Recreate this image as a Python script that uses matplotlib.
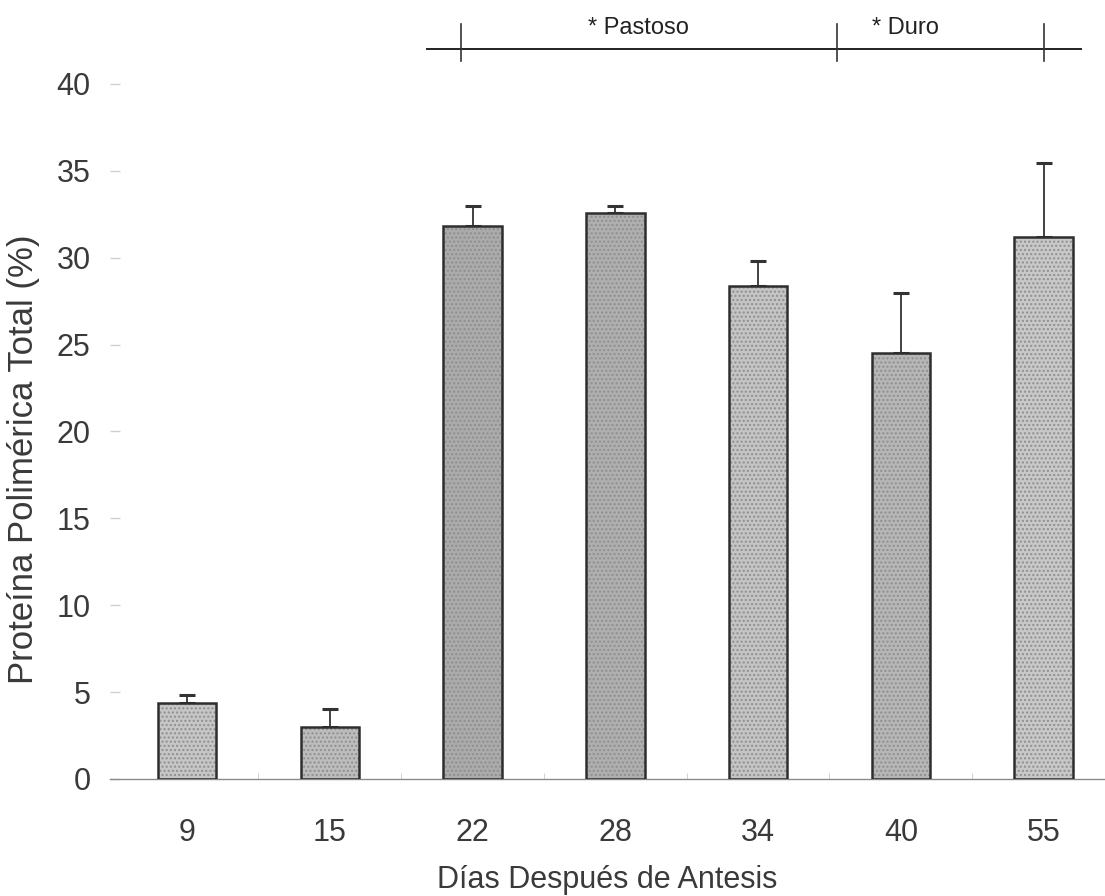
"""
Proteina polimerica total vs dias despues de antesis
"""

import numpy as np
import matplotlib.pyplot as plt
from matplotlib.transforms import blended_transform_factory

plt.rcParams['font.family'] = ['Liberation Sans', 'DejaVu Sans']

#> Data
dias = ['9', '15', '22', '28', '34', '40', '55']
proteina = [4.4, 3.0, 31.8, 32.6, 28.4, 24.5, 31.2]
error_sup = [0.45, 1.0, 1.15, 0.4, 1.4, 3.45, 4.25]
y_ticks = [0, 5, 10, 15, 20, 25, 30, 35, 40]

#> Stage bar on top (positions in category units)
etapa_linea = (1.68, 6.26)
etapa_marcas = [1.92, 4.55, 6.0]
etapa_textos = {'* Pastoso': 3.16, '* Duro': 5.03}

#> scanned grey of each bar
grises = ['#c6c6c6', '#bdbdbd', '#ababab', '#afafaf', '#c4c4c4', '#b6b6b6', '#c8c8c8']

pos = np.arange(len(dias))
txt_col = '#3a3a3a'

fig = plt.figure(figsize=(11.05, 8.96), dpi=100)
ax = fig.add_axes([0.0995, 0.1306, 0.9005, 0.7757])

#> bars: stippled fill, then outline
ax.bar(pos, proteina, width=0.41, color=grises, edgecolor='#8f8f8f',
       hatch='....', linewidth=0, zorder=2)
ax.bar(pos, proteina, width=0.41, fill=False, edgecolor='#2e2e2e',
       linewidth=1.8, zorder=3)
ax.errorbar(pos, proteina, yerr=[np.zeros(len(pos)), error_sup], fmt='none',
            ecolor='#333333', elinewidth=1.3, capsize=6, capthick=2.2, zorder=1)

ax.set_xlim(-0.54, 6.43)
ax.set_ylim(0, 40)
ax.set_yticks(y_ticks)
ax.set_xticks(pos)
ax.set_xticklabels(dias)
ax.set_xticks(pos[:-1] + 0.5, minor=True)

for s in ['top', 'right', 'left']:
    ax.spines[s].set_visible(False)
ax.spines['bottom'].set_color('#8a8a8a')
ax.spines['bottom'].set_linewidth(1.0)

ax.tick_params(axis='y', direction='in', length=7, width=1, color='#d0d0d0',
               labelsize=22, labelcolor=txt_col, pad=14)
ax.tick_params(axis='x', which='major', length=0, labelsize=22,
               labelcolor=txt_col, pad=28)
ax.tick_params(axis='x', which='minor', direction='in', length=4,
               color='#c8c8c8')

ax.set_xlabel('Días Después de Antesis', fontsize=22, color=txt_col, labelpad=12)
ax.set_ylabel('Proteína Polimérica Total (%)', fontsize=25, color=txt_col)
ax.yaxis.set_label_coords(-0.07, 0.46)

#> stage annotation above the plot
tr = blended_transform_factory(ax.transData, fig.transFigure)
y_linea = 1 - 49 / 896
ax.plot(etapa_linea, [y_linea, y_linea], transform=tr, color='#222222',
        lw=1.4, clip_on=False)
for m in etapa_marcas:
    ax.plot([m, m], [1 - 24 / 896, 1 - 61 / 896], transform=tr,
            color='#333333', lw=1.2, clip_on=False)
for txt, xc in etapa_textos.items():
    ax.text(xc, 1 - 28 / 896, txt, transform=tr, ha='center', va='center',
            fontsize=17, color='#222222')

fig.savefig('out.png', dpi=100)
